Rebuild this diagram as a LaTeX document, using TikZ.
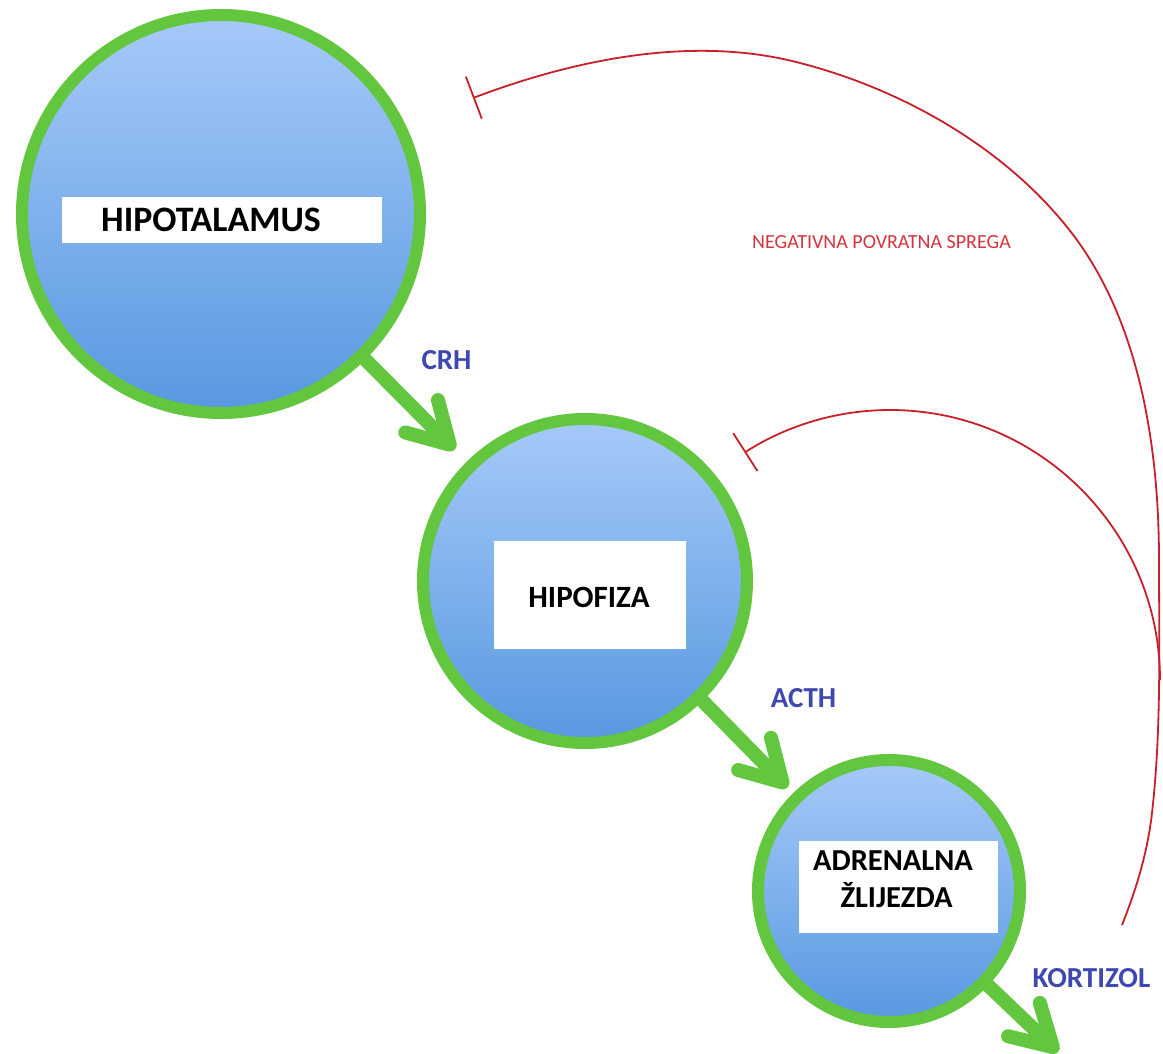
\documentclass[tikz,border=0pt]{standalone}
\usepackage{fontspec}
\setmainfont{Carlito}
\usetikzlibrary{arrows.meta}
\definecolor{ringgreen}{RGB}{98,198,62}
\definecolor{circtop}{RGB}{166,202,249}
\definecolor{circbot}{RGB}{88,152,224}
\definecolor{lblblue}{RGB}{62,72,176}
\definecolor{fbred}{RGB}{200,32,42}
\definecolor{fbtext}{RGB}{212,52,62}
\pgfdeclarelayer{bg}
\pgfsetlayers{bg,main}
\begin{document}
\begin{tikzpicture}[x=1pt,y=-1pt,
  gland/.style={circle, draw=ringgreen, line width=12pt, top color=circtop, bottom color=circbot, inner sep=0pt, outer sep=0pt},
  whitebox/.style={fill=white, draw=none, inner sep=0pt},
  boxtext/.style={font=\bfseries\fontsize{30.5}{36}\selectfont, text=black, inner sep=0pt},
  hormone/.style={font=\bfseries\fontsize{29}{34}\selectfont, text=lblblue, inner sep=0pt},
  garrow/.style={draw=ringgreen, line width=14pt, line cap=round, -{Straight Barb[length=40pt,width=46pt,round]}},
  inhib/.style={draw=fbred, line width=1.8pt, -{Bar[width=45pt]}},
]
\useasboundingbox (0,0) rectangle (1163,1054);
\begin{pgfonlayer}{bg}
\fill[white] (0,0) rectangle (1163,1054);
\end{pgfonlayer}

% glands
\node[gland, minimum size=398pt] (hyp) at (221,214) {};
\node[gland, minimum size=324pt] (pit) at (585,581) {};
\node[gland, minimum size=262pt] (adr) at (889,891) {};

% white label boxes
\node[whitebox, minimum width=320pt, minimum height=46pt] (hypbox) at (222,220) {};
\node[boxtext, font=\bfseries\fontsize{35.8}{40}\selectfont, anchor=base west] (hyptxt) at (101,231) {HIPOTALAMUS};
\node[whitebox, minimum width=192pt, minimum height=108pt] (pitbox) at (590,595) {};
\node[boxtext, font=\bfseries\fontsize{31}{36}\selectfont, anchor=base] (pittxt) at (589,607) {HIPOFIZA};
\node[whitebox, minimum width=199pt, minimum height=92pt] (adrbox) at (898.5,887) {};
\node[boxtext, anchor=base] (adrtxt1) at (893,870) {ADRENALNA};
\node[boxtext, anchor=base] (adrtxt2) at (896.5,907) {ŽLIJEZDA};

% hormone arrows
\coordinate (out) at (1058,1052);
\begin{pgfonlayer}{bg}
\draw[garrow, shorten >=23pt] (hyp) -- (pit);
\draw[garrow, shorten >=14pt] (pit) -- (adr);
\draw[garrow] (adr) -- (out);
\end{pgfonlayer}

\node[hormone, anchor=base] (crh) at (446.5,369) {CRH};
\node[hormone, anchor=base] (acth) at (803.5,707) {ACTH};
\node[hormone, anchor=base] (kort) at (1091.5,987) {KORTIZOL};

% negative feedback
\coordinate (fbstart) at (1122,925);
\coordinate (fbjoin) at (1160,680);
\coordinate (hypend) at (473,98);
\draw[inhib] (fbstart) .. controls (1136.4,889) and (1147.6,851.8) .. (1152,813)
  .. controls (1161.5,729.5) and (1159,644) .. (1159,560)
  .. controls (1159,445) and (1139,316) .. (1067,227)
  .. controls (1002,146) and (901,89) .. (800,63)
  .. controls (694,35) and (576,59) .. (hypend);
\draw[inhib] (fbjoin) arc[start angle=0, end angle=-122.6, radius=270] coordinate (pitend);
\node[font=\fontsize{20}{24}\selectfont, text=fbtext, inner sep=0pt, anchor=base] (fblabel) at (881.5,248) {NEGATIVNA POVRATNA SPREGA};
\end{tikzpicture}
\end{document}
